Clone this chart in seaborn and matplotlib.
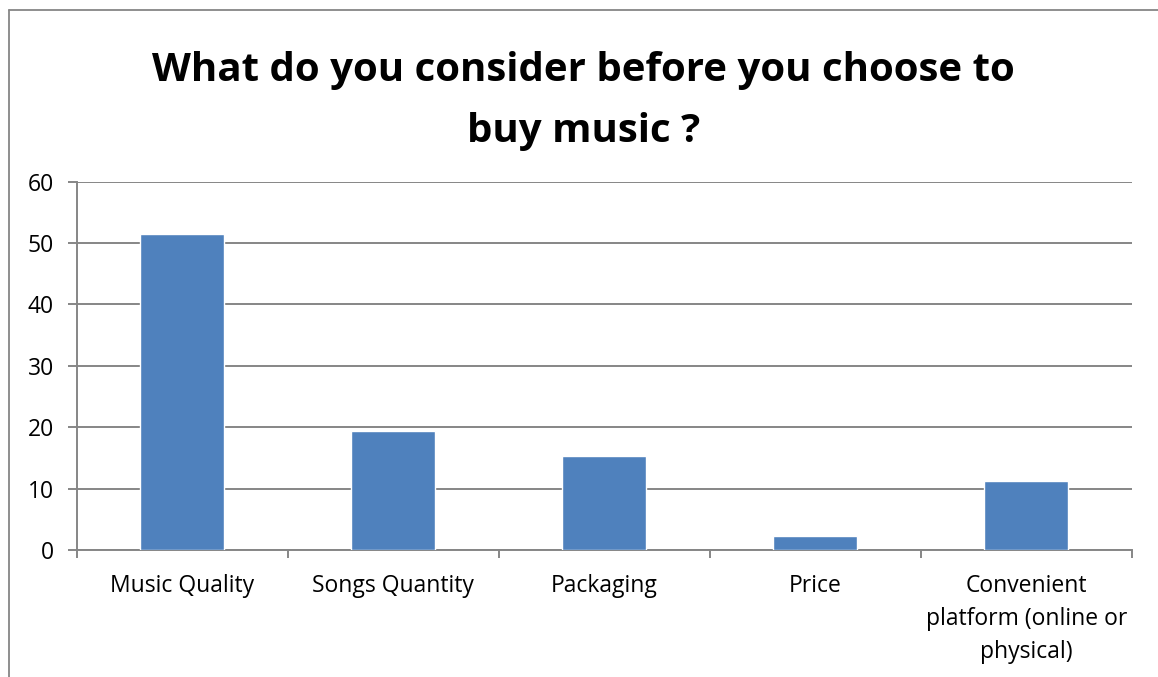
import matplotlib
matplotlib.use("Agg")
import matplotlib.pyplot as plt
from matplotlib.lines import Line2D
from matplotlib.ticker import FixedLocator
import seaborn as sns
import pandas as pd

categories = ["Music Quality", "Songs Quantity", "Packaging", "Price",
              "Convenient\nplatform (online or\nphysical)"]
values = [51.5, 19.5, 15.3, 2.4, 11.3]
y_ticks = [0, 10, 20, 30, 40, 50, 60]
title = "What do you consider before you choose to\nbuy music ?"

sns.set_theme(style="white")
plt.rcParams["font.family"] = ["Open Sans", "DejaVu Sans"]

grid_color = "#868686"
bar_color = "#4F81BD"

df = pd.DataFrame({"category": categories, "value": values})

fig = plt.figure(figsize=(11.58, 6.77), dpi=100)
ax = fig.add_axes([0.0662, 0.1869, 0.9773 - 0.0662, 0.7319 - 0.1869])

sns.barplot(data=df, x="category", y="value", color=bar_color, width=0.4,
            saturation=1, ax=ax, zorder=3)

ax.set_ylim(0, 60)
ax.set_xlim(-0.5, len(categories) - 0.5)
ax.set_yticks(y_ticks)
ax.set_xlabel("")
ax.set_ylabel("")

ax.grid(axis="y", color=grid_color, linewidth=1.4, zorder=0)
ax.grid(axis="x", visible=False)
for side in ["top", "right"]:
    ax.spines[side].set_visible(False)
for side in ["left", "bottom"]:
    ax.spines[side].set_color(grid_color)
    ax.spines[side].set_linewidth(1.4)

ax.tick_params(axis="y", which="major", length=6.5, width=1.4, color=grid_color,
               direction="out", pad=10, labelsize=16.5, labelcolor="black", left=True)
ax.tick_params(axis="x", which="major", length=0, pad=17, labelsize=16.5,
               labelcolor="black")
ax.xaxis.set_minor_locator(FixedLocator([i - 0.5 for i in range(len(categories) + 1)]))
ax.tick_params(axis="x", which="minor", length=6, width=1.4, color=grid_color,
               direction="out", bottom=True)
for lbl in ax.get_xticklabels():
    lbl.set_linespacing(1.5)
    lbl.set_verticalalignment("top")

fig.text(0.504, 0.851, title, ha="center", va="center", fontsize=29,
         fontweight="bold", linespacing=1.72, color="black")

# chart frame
fig.add_artist(Line2D([8.5 / 1158, 8.5 / 1158], [0, 1 - 10 / 677],
                      transform=fig.transFigure, color=grid_color, linewidth=1.3))
fig.add_artist(Line2D([8.5 / 1158, 1], [1 - 10 / 677, 1 - 10 / 677],
                      transform=fig.transFigure, color=grid_color, linewidth=1.3))

fig.savefig("out.png", dpi=100, facecolor="white")
